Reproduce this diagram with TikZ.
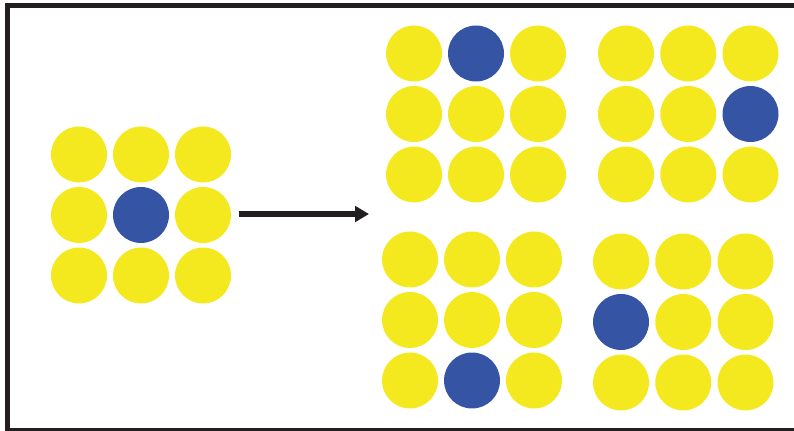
\documentclass[tikz,border=0pt]{standalone}
\usepackage{xcolor}
\usetikzlibrary{arrows.meta}
\definecolor{dotyellow}{RGB}{244,233,30}
\definecolor{dotblue}{RGB}{53,84,164}
\definecolor{frameline}{RGB}{35,31,32}

\begin{document}
\begin{tikzpicture}[
    x=0.02cm, y=-0.02cm,
    dot/.style={circle, fill=dotyellow, minimum size=1.12cm, inner sep=0pt},
    hit/.style={dot, fill=dotblue},
    arrow/.style={-{Triangle[length=0.28cm, width=0.31cm]}, draw=frameline, line width=0.12cm}
  ]
    \useasboundingbox (0,0) rectangle (794,431);
    \path[clip] (0,0) rectangle (794,431);
    \draw[frameline, line width=0.09cm] (7.3,5.3) rectangle (830,430);
    % lattice name / first column x / first row y / column step / row step / blue column / blue row
    \foreach \grid/\x/\y/\dx/\dy/\bc/\br in {
        init/79/154.5/62/60.5/2/2,
        outA/414/53.5/62/60.5/2/1,
        outB/626/53.5/62.25/60.5/3/2,
        outC/410/259.5/62/60.5/2/3,
        outD/621/261.5/62.25/60.5/1/2}
      \foreach \c in {1,2,3}
        \foreach \r in {1,2,3} {
          \ifnum\c=\bc\relax\ifnum\r=\br\relax\def\kind{hit}\else\def\kind{dot}\fi\else\def\kind{dot}\fi
          \node[\kind] (\grid-\r-\c) at ({\x+(\c-1)*\dx},{\y+(\r-1)*\dy}) {};
        }
    \coordinate (tail) at (239,214);
    \coordinate (head) at (369,214);
    \draw[arrow] (tail) -- (head);
  \end{tikzpicture}
\end{document}
